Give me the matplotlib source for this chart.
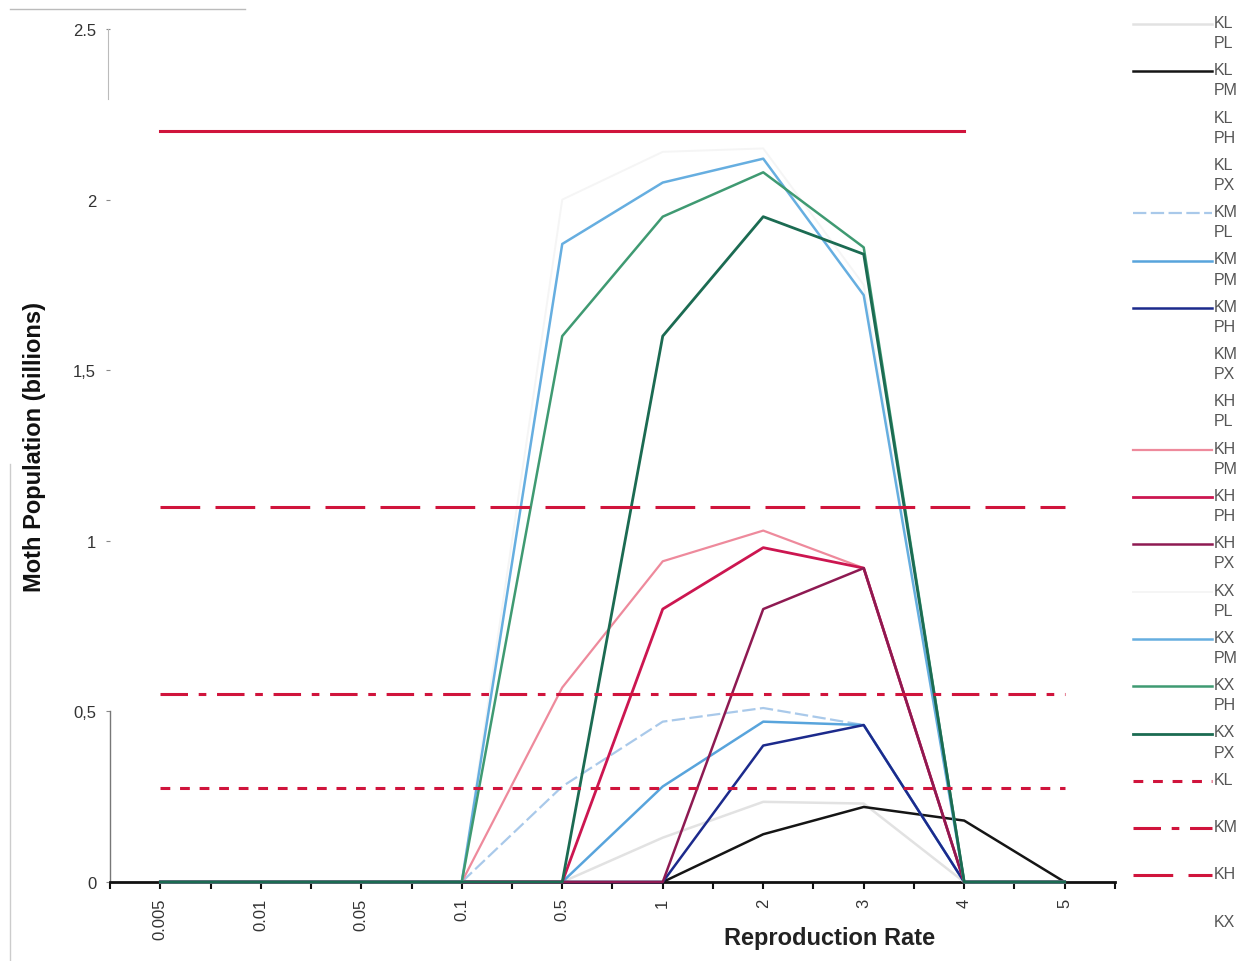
import numpy as np
import matplotlib
matplotlib.use('Agg')
import matplotlib.pyplot as plt
from matplotlib.lines import Line2D

plt.rcParams['font.family'] = ['Liberation Sans', 'DejaVu Sans']

categories = ['0.005', '0.01', '0.05', '0.1', '0.5', '1', '2', '3', '4', '5']
y_tick_values = [0, 0.5, 1, 1.5, 2, 2.5]
y_tick_labels = ['0', '0,5', '1', '1,5', '2', '2.5']

# population curves (billions), one per K/P combination
kl_pl = [0, 0, 0, 0, 0, 0.13, 0.235, 0.23, 0, 0]
kl_pm = [0, 0, 0, 0, 0, 0, 0.14, 0.22, 0.18, 0]
kl_ph = [np.nan] * 10
kl_px = [np.nan] * 10
km_pl = [0, 0, 0, 0, 0.28, 0.47, 0.51, 0.46, 0, 0]
km_pm = [0, 0, 0, 0, 0, 0.28, 0.47, 0.46, 0, 0]
km_ph = [0, 0, 0, 0, 0, 0, 0.40, 0.46, 0, 0]
km_px = [np.nan] * 10
kh_pl = [np.nan] * 10
kh_pm = [0, 0, 0, 0, 0.57, 0.94, 1.03, 0.92, 0, 0]
kh_ph = [0, 0, 0, 0, 0, 0.80, 0.98, 0.92, 0, 0]
kh_px = [0, 0, 0, 0, 0, 0, 0.80, 0.92, 0, 0]
kx_pl = [0, 0, 0, 0, 2.0, 2.14, 2.15, 1.75, 0, 0]
kx_pm = [0, 0, 0, 0, 1.87, 2.05, 2.12, 1.72, 0, 0]
kx_ph = [0, 0, 0, 0, 1.60, 1.95, 2.08, 1.86, 0, 0]
kx_px = [0, 0, 0, 0, 0, 1.60, 1.95, 1.84, 0, 0]

# carrying capacity lines
kl_cap = [0.275, 0.275, 0.275, 0.275, 0.275, 0.275, 0.275, 0.275, 0.275, 0.275]
km_cap = [0.55, 0.55, 0.55, 0.55, 0.55, 0.55, 0.55, 0.55, 0.55, 0.55]
kh_cap = [1.1, 1.1, 1.1, 1.1, 1.1, 1.1, 1.1, 1.1, 1.1, 1.1]
kx_cap = [2.2, 2.2, 2.2, 2.2, 2.2, 2.2, 2.2, 2.2, 2.2, np.nan]

red = '#d0143c'
series = [
    ('KL\nPL', kl_pl, '#e2e2e2', '-', 1.8),
    ('KL\nPM', kl_pm, '#151515', '-', 1.8),
    ('KL\nPH', kl_ph, 'white', '-', 1.8),
    ('KL\nPX', kl_px, 'white', '-', 1.8),
    ('KM\nPL', km_pl, '#a9c9ea', (0, (6, 2)), 1.6),
    ('KM\nPM', km_pm, '#58a4dc', '-', 1.8),
    ('KM\nPH', km_ph, '#1c2a8c', '-', 1.8),
    ('KM\nPX', km_px, 'white', '-', 1.8),
    ('KH\nPL', kh_pl, 'white', '-', 1.8),
    ('KH\nPM', kh_pm, '#ee8a9c', '-', 1.6),
    ('KH\nPH', kh_ph, '#cc1650', '-', 2.0),
    ('KH\nPX', kh_px, '#8e1a52', '-', 1.8),
    ('KX\nPL', kx_pl, '#f5f5f5', '-', 1.4),
    ('KX\nPM', kx_pm, '#66aee0', '-', 1.8),
    ('KX\nPH', kx_ph, '#3f9a72', '-', 1.8),
    ('KX\nPX', kx_px, '#1b6b52', '-', 2.0),
    ('KL', kl_cap, red, (0, (3.2, 3.2)), 2.2),
    ('KM', km_cap, red, (0, (9, 3.5, 2.5, 3.5)), 2.2),
    ('KH', kh_cap, red, (0, (13, 5)), 2.2),
    ('KX', kx_cap, red, '-', 2.2),
]

x = np.arange(len(categories))

fig = plt.figure(figsize=(12.56, 9.62), dpi=100)
ax = fig.add_axes([0.0876, 0.0821, 0.8001, 0.8867])

for label, vals, color, ls, lw in series:
    ax.plot(x, vals, color=color, linestyle=ls, linewidth=lw, zorder=3,
            clip_on=False)

ax.set_xlim(-0.5, 9.5)
ax.set_ylim(0, 2.5)
ax.set_xticks(x)
ax.set_xticklabels(categories, rotation=90, fontsize=12, color='#333333')
ax.set_xticks(np.arange(-0.5, 10, 1), minor=True)
ax.tick_params(axis='x', which='both', length=5, width=1.5, color='#111111', pad=6)
ax.set_yticks(y_tick_values)
ax.set_yticklabels(y_tick_labels, fontsize=12, color='#333333')
ax.tick_params(axis='y', length=3, width=0.8, color='#888888', pad=7)

for side in ['top', 'right']:
    ax.spines[side].set_visible(False)
ax.spines['bottom'].set_linewidth(2)
ax.spines['bottom'].set_color('#111111')
ax.spines['left'].set_bounds(0, 0.5)
ax.spines['left'].set_color('#777777')
ax.spines['left'].set_linewidth(1)

ax.set_xlabel('Reproduction Rate', fontsize=17, fontweight='bold', color='#222222')
ax.xaxis.set_label_coords(0.716, -0.052)
ax.set_ylabel('Moth Population (billions)', fontsize=17, fontweight='bold', color='#111111')
ax.yaxis.set_label_coords(-0.064, 0.511)

# legend drawn at the right, label lines stacked
W, H = 1256, 962
for i, (label, vals, color, ls, lw) in enumerate(series):
    yp = 25 + i * 47.3
    yf = 1 - yp / H
    if color != 'white' and label != 'KX':
        fig.add_artist(Line2D([1133 / W, 1212 / W], [yf, yf], color=color,
                              linestyle=ls, linewidth=lw))
    fig.text(1214 / W, yf + 9 / H, label, fontsize=11.5, color='#555555',
             va='top', ha='left', linespacing=1.42)

# faint frame remnants of the original
fig.add_artist(Line2D([10 / W, 245 / W], [1 - 10 / H, 1 - 10 / H], color='#bbbbbb', linewidth=1))
fig.add_artist(Line2D([10 / W, 10 / W], [1 - 465 / H, 0], color='#cccccc', linewidth=1))
fig.add_artist(Line2D([108 / W, 108 / W], [1 - 30 / H, 1 - 100 / H], color='#bbbbbb', linewidth=0.8))

fig.savefig('out.png', dpi=100, facecolor='white')
